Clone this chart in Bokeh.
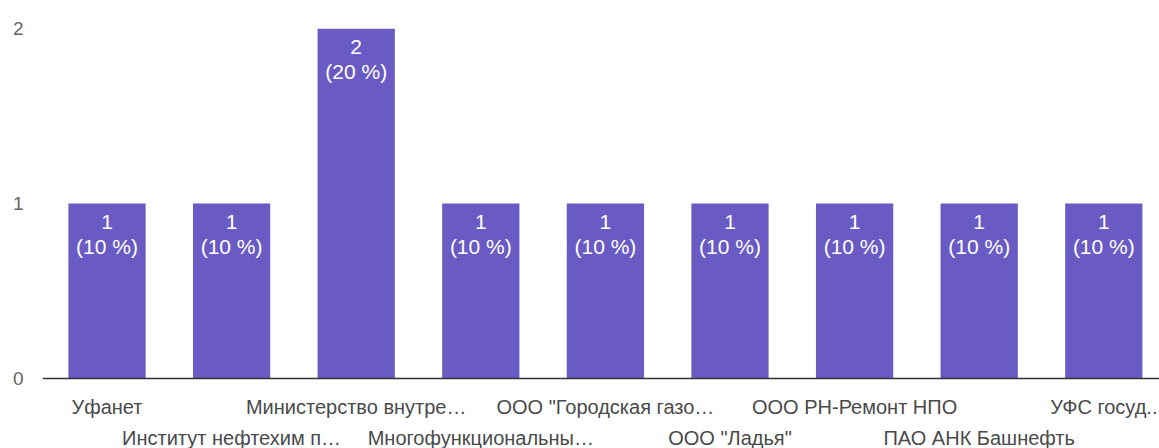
from bokeh.plotting import figure
from bokeh.models import Range1d, FixedTicker, ColumnDataSource, Span
from bokeh.embed import file_html
from bokeh.resources import INLINE
from bokeh.core.properties import value

categories = ["Уфанет", "Институт нефтехим п…", "Министерство внутре…",
              "Многофункциональны…", "ООО \"Городская газо…", "ООО \"Ладья\"",
              "ООО РН-Ремонт НПО", "ПАО АНК Башнефть", "УФС госуд.."]
counts = [1, 1, 2, 1, 1, 1, 1, 1, 1]
y_ticks = [0, 1, 2]

total = sum(counts)
xs = list(range(len(categories)))
src = ColumnDataSource(dict(
    x=xs, top=counts,
    l1=[str(c) for c in counts],
    l2=["(%d %%)" % round(c * 100 / total) for c in counts],
))
row1 = ColumnDataSource(dict(x=xs[0::2], y=[0] * len(xs[0::2]), t=categories[0::2]))
row2 = ColumnDataSource(dict(x=xs[1::2], y=[0] * len(xs[1::2]), t=categories[1::2]))

FONT = "Liberation Sans"

p = figure(width=1159, height=448, output_backend="svg", toolbar_location=None,
           x_range=Range1d(-0.5177, 8.447), y_range=Range1d(-0.4, 2),
           min_border_left=42, min_border_right=0, min_border_top=28, min_border_bottom=0,
           x_axis_location=None)
p.outline_line_color = None
p.xgrid.visible = False
p.ygrid.visible = False

p.vbar(x="x", top="top", width=0.62, bottom=0, source=src,
       fill_color="#6A5BC4", line_color=None)
p.add_layout(Span(location=0, dimension="width", line_color="#333333", line_width=1.5))

p.text(x="x", y="top", text="l1", source=src, y_offset=18, text_align="center",
       text_baseline="middle", text_color="white", text_font=value(FONT), text_font_size="21px")
p.text(x="x", y="top", text="l2", source=src, y_offset=43, text_align="center",
       text_baseline="middle", text_color="white", text_font=value(FONT), text_font_size="21px")

p.text(x="x", y="y", text="t", source=row1, y_offset=28, text_align="center",
       text_baseline="middle", text_color="#4a4a4a", text_font=value(FONT), text_font_size="20px")
p.text(x="x", y="y", text="t", source=row2, y_offset=59, text_align="center",
       text_baseline="middle", text_color="#4a4a4a", text_font=value(FONT), text_font_size="20px")

ya = p.yaxis[0]
ya.ticker = FixedTicker(ticks=y_ticks)
ya.axis_line_color = None
ya.major_tick_line_color = None
ya.minor_tick_line_color = None
ya.major_label_standoff = 13
ya.major_label_text_color = "#666666"
ya.major_label_text_font = FONT
ya.major_label_text_font_size = "19px"

open("out.html", "w").write(file_html(p, INLINE))
